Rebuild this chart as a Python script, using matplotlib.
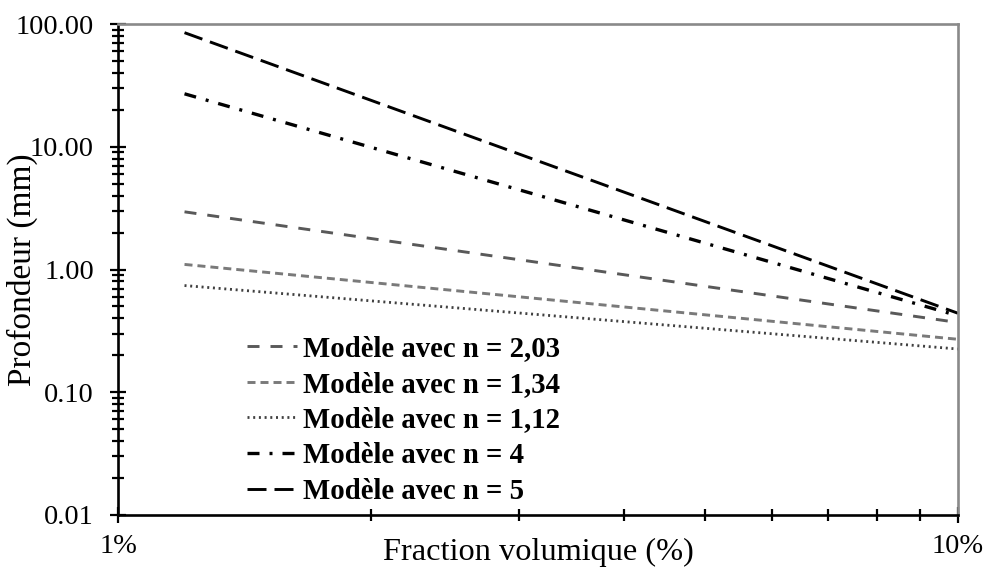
import matplotlib
matplotlib.use("Agg")
import matplotlib.pyplot as plt
from matplotlib.ticker import FixedLocator, NullFormatter

plt.rcParams['font.family'] = ['Liberation Serif', 'DejaVu Serif']
plt.rcParams['lines.scale_dashes'] = False

# Volume fraction (%) at the two ends of each model line
fraction = [1.2, 10.0]

# Depth (mm) for each model, at the first and last fraction
labels = ["Modèle avec n = 2,03", "Modèle avec n = 1,34", "Modèle avec n = 1,12",
          "Modèle avec n = 4", "Modèle avec n = 5"]
depth_n203 = [2.95, 0.37]
depth_n134 = [1.10, 0.27]
depth_n112 = [0.74, 0.225]
depth_n4 = [27.0, 0.42]
depth_n5 = [85.0, 0.44]

xticks = [1, 10]
xticklabels = ["1%", "10%"]
yticks = [0.01, 0.1, 1, 10, 100]
yticklabels = ["0.01", "0.10", "1.00", "10.00", "100.00"]

PX = 72 / 100.0  # points per pixel

series = [
    (depth_n203, dict(color="#595959", lw=2.1, dashes=(12 * PX, 11 * PX))),
    (depth_n134, dict(color="#7a7a7a", lw=2.1, dashes=(8 * PX, 5 * PX))),
    (depth_n112, dict(color="#404040", lw=2.0, dashes=(2 * PX, 3.7 * PX))),
    (depth_n4, dict(color="black", lw=2.4, dashes=(12 * PX, 10 * PX, 3 * PX, 10 * PX))),
    (depth_n5, dict(color="black", lw=2.1, dashes=(19 * PX, 8 * PX))),
]

fig = plt.figure(figsize=(9.88, 5.68), dpi=100)
ax = fig.add_axes([118 / 988, 53 / 568, 840 / 988, 491 / 568])

for (vals, style), lab in zip(series, labels):
    ax.plot(fraction, vals, label=lab, solid_capstyle="butt",
            dash_capstyle="butt", **style)

ax.set_xscale("log")
ax.set_yscale("log")
ax.set_xlim(1, 10)
ax.set_ylim(0.01, 100)

ax.xaxis.set_major_locator(FixedLocator(xticks))
ax.set_xticklabels(xticklabels)
ax.xaxis.set_minor_locator(FixedLocator([2, 3, 4, 5, 6, 7, 8, 9]))
ax.xaxis.set_minor_formatter(NullFormatter())
ax.yaxis.set_major_locator(FixedLocator(yticks))
ax.set_yticklabels(yticklabels)
minor_y = [m * 10.0 ** e for e in range(-2, 2) for m in range(2, 10)]
ax.yaxis.set_minor_locator(FixedLocator(minor_y))
ax.yaxis.set_minor_formatter(NullFormatter())

ax.tick_params(axis="both", which="major", direction="inout", length=11.5,
               width=1.6, labelsize=20.5, color="black")
ax.tick_params(axis="both", which="minor", direction="inout", length=8.6,
               width=1.6, color="black")
ax.tick_params(axis="y", which="major", pad=11.5)
ax.tick_params(axis="x", which="major", pad=8)
ax.tick_params(top=False, right=False, which="both")

for side in ("left", "bottom"):
    ax.spines[side].set_color("black")
    ax.spines[side].set_linewidth(1.9)
for side in ("top", "right"):
    ax.spines[side].set_color("#8a8a8a")
    ax.spines[side].set_linewidth(1.9)

ax.set_xlabel("Fraction volumique (%)", fontsize=23.3)
ax.xaxis.set_label_coords(0.5, -0.046)
ax.set_ylabel("Profondeur (mm)", fontsize=24)
ax.yaxis.set_label_coords(-0.095, 0.5)

ax.legend(loc="upper left", bbox_to_anchor=(0.1536, 0.366), frameon=False,
          prop=dict(weight="bold", size=20.7), handlelength=1.75,
          handletextpad=0.18, labelspacing=0.30, borderpad=0,
          borderaxespad=0)

fig.savefig("out.png", dpi=100)
